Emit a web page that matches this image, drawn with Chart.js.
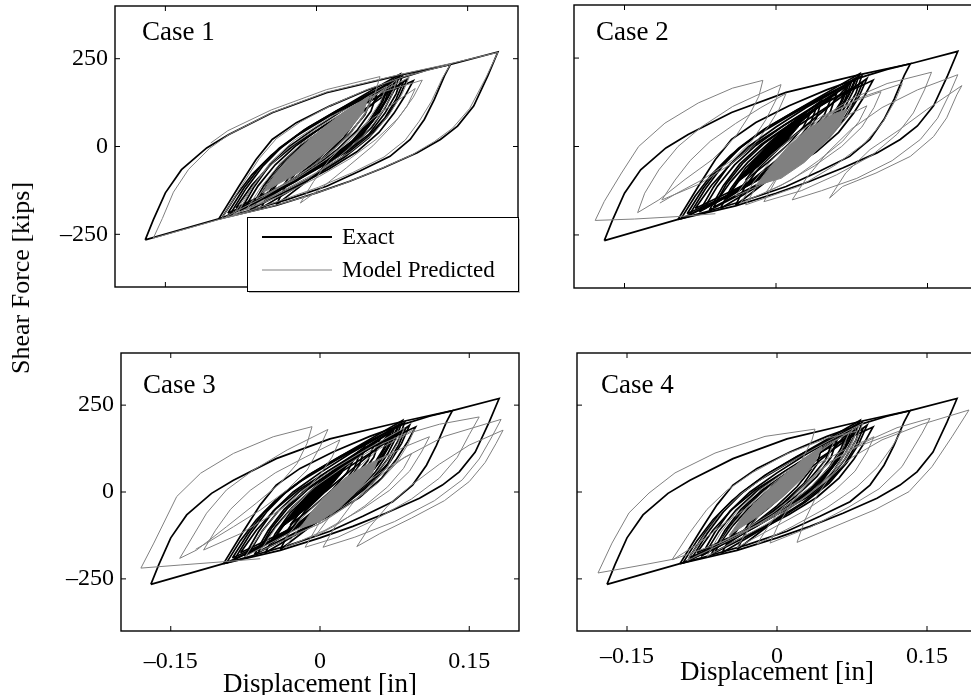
<!DOCTYPE html>
<html>
<head>
<meta charset="utf-8">
<script src="https://cdn.jsdelivr.net/npm/chart.js@4.4.0/dist/chart.umd.min.js"></script>
<style>
  html, body { margin: 0; padding: 0; background: #fff; }
  body { position: relative; width: 971px; height: 695px; overflow: hidden; }
  canvas { position: absolute; left: 0; top: 0; }
  #ylab {
    position: absolute; left: 21px; top: 278px;
    transform: translate(-50%, -50%) rotate(-90deg);
    font: 26px "Liberation Serif", "Times New Roman", serif;
    line-height: 1; white-space: nowrap; color: #000;
  }
</style>
</head>
<body>
<canvas id="c1" width="990" height="720"></canvas>
<canvas id="c2" width="990" height="720"></canvas>
<canvas id="c3" width="990" height="720"></canvas>
<canvas id="c4" width="990" height="720"></canvas>
<div id="ylab">Shear Force [kips]</div>
<script>
// axes
const xTicks = [-0.15, 0, 0.15];
const yTicks = [-250, 0, 250];
const xRange = [-0.2, 0.2];
const yRange = [-400, 400];
const caseNames = ['Case 1', 'Case 2', 'Case 3', 'Case 4'];
const seriesNames = ['Exact', 'Model Predicted'];

// exact response: [displacement in, shear kips] per cycle (same in every case)
const exactLoops = [
  [[-0.170,-266],[-0.162,-209],[-0.150,-132],[-0.134,-66],[-0.109,-4],[-0.087,34],[-0.044,96],[0.010,153],[0.083,203],[0.133,234],[0.180,269],[0.170,201],[0.156,115],[0.140,58],[0.123,20],[0.100,-18],[0.066,-61],[0.033,-99],[0.000,-132],[-0.040,-168],[-0.097,-206],[-0.170,-266]],
  [[-0.097,-206],[-0.077,-113],[-0.060,-37],[-0.044,20],[-0.020,68],[0.013,115],[0.050,160],[0.085,196],[0.110,218],[0.133,234],[0.127,201],[0.117,134],[0.107,77],[0.093,20],[0.073,-28],[0.043,-70],[0.010,-113],[-0.030,-152],[-0.070,-185],[-0.097,-206]],
  [[-0.086,-194],[-0.070,-120],[-0.053,-55],[-0.034,0],[-0.008,55],[0.025,110],[0.055,160],[0.083,206],[0.077,160],[0.068,110],[0.055,55],[0.037,5],[0.012,-45],[-0.020,-95],[-0.055,-150],[-0.086,-194]],
  [[-0.076,-185],[-0.062,-115],[-0.047,-55],[-0.027,0],[0.000,55],[0.030,110],[0.058,155],[0.080,196],[0.073,150],[0.062,95],[0.047,40],[0.027,-10],[0.000,-60],[-0.035,-115],[-0.076,-185]],
  [[-0.066,-180],[-0.052,-110],[-0.036,-50],[-0.015,5],[0.015,65],[0.050,125],[0.075,160],[0.096,187],[0.088,145],[0.077,95],[0.062,40],[0.040,-15],[0.012,-65],[-0.025,-120],[-0.066,-180]],
  [[-0.094,-204],[-0.080,-140],[-0.064,-80],[-0.045,-25],[-0.020,30],[0.015,90],[0.050,145],[0.085,200],[0.079,150],[0.068,95],[0.052,35],[0.030,-15],[0.000,-65],[-0.040,-130],[-0.094,-204]],
  [[-0.040,-166],[-0.030,-110],[-0.015,-55],[0.005,0],[0.030,60],[0.055,120],[0.075,185],[0.068,130],[0.055,70],[0.038,15],[0.015,-40],[-0.010,-100],[-0.040,-166]],
  [[-0.055,-175],[-0.045,-120],[-0.030,-60],[-0.010,-5],[0.020,55],[0.055,120],[0.090,192],[0.082,140],[0.070,85],[0.052,25],[0.028,-30],[-0.005,-90],[-0.055,-175]],
  [[-0.080,-175],[-0.064,-110],[-0.045,-50],[-0.022,5],[0.008,60],[0.040,115],[0.070,170],[0.064,125],[0.052,70],[0.035,15],[0.010,-40],[-0.025,-100],[-0.080,-175]],
  [[-0.088,-190],[-0.072,-118],[-0.056,-58],[-0.037,-5],[-0.012,48],[0.020,102],[0.052,150],[0.078,188],[0.071,142],[0.060,88],[0.045,33],[0.024,-18],[-0.004,-70],[-0.042,-130],[-0.088,-190]],
  [[-0.062,-172],[-0.049,-105],[-0.033,-48],[-0.012,8],[0.016,65],[0.048,122],[0.086,182],[0.079,135],[0.068,82],[0.050,25],[0.026,-30],[-0.008,-92],[-0.062,-172]],
  [[-0.072,-178],[-0.058,-112],[-0.041,-52],[-0.020,3],[0.008,60],[0.040,118],[0.072,176],[0.066,130],[0.055,75],[0.038,20],[0.014,-35],[-0.020,-98],[-0.072,-178]],
  [[-0.050,-150],[-0.035,-85],[-0.018,-30],[0.005,30],[0.030,90],[0.060,150],[0.054,100],[0.040,45],[0.020,-10],[-0.005,-65],[-0.050,-150]],
  [[-0.045,-130],[-0.030,-70],[-0.010,-15],[0.012,40],[0.035,95],[0.055,140],[0.048,90],[0.032,35],[0.012,-20],[-0.012,-75],[-0.045,-130]],
  [[-0.060,-160],[-0.045,-100],[-0.028,-45],[-0.005,15],[0.020,75],[0.045,130],[0.040,80],[0.027,25],[0.005,-35],[-0.022,-95],[-0.060,-160]],
  [[-0.035,-120],[-0.022,-65],[-0.005,-10],[0.015,45],[0.040,110],[0.034,65],[0.020,15],[0.000,-40],[-0.035,-120]],
  [[-0.030,-95],[-0.015,-40],[0.002,15],[0.022,70],[0.035,100],[0.027,55],[0.012,5],[-0.008,-45],[-0.030,-95]]
];
// envelope of the many small exact cycles near the origin
const exactCore = [[-0.040,-105],[-0.025,-50],[-0.008,5],[0.010,55],[0.030,100],[0.022,55],[0.008,8],[-0.012,-45],[-0.040,-105]];

// model predicted response, case 1
const pred1Loops = [
  [[-0.162,-261],[-0.153,-205],[-0.142,-130],[-0.127,-65],[-0.106,-5],[-0.087,34],[-0.044,97],[0.010,155],[0.083,205],[0.133,236],[0.180,268],[0.168,195],[0.152,108],[0.135,52],[0.117,14],[0.094,-25],[0.060,-68],[0.025,-108],[-0.010,-142],[-0.050,-175],[-0.097,-208],[-0.162,-261]],
  [[-0.094,-205],[-0.074,-110],[-0.057,-35],[-0.040,22],[-0.016,70],[0.015,118],[0.050,162],[0.088,200],[0.133,234],[0.125,195],[0.114,128],[0.102,72],[0.088,18],[0.067,-30],[0.036,-74],[0.002,-116],[-0.038,-156],[-0.072,-188],[-0.094,-205]],
  [[-0.105,10],[-0.088,45],[-0.045,104],[0.010,162],[0.063,199],[0.058,150],[0.048,92],[0.033,32],[0.010,-28],[-0.020,-88],[-0.055,-148],[-0.090,-200]],
  [[-0.078,-188],[-0.063,-112],[-0.046,-46],[-0.022,18],[0.018,90],[0.062,152],[0.105,189],[0.096,140],[0.081,80],[0.059,20],[0.033,-35],[0.003,-85],[-0.037,-142],[-0.078,-188]],
  [[-0.016,-161],[-0.003,-100],[0.012,-40],[0.032,20],[0.056,80],[0.080,130],[0.098,165],[0.090,115],[0.076,62],[0.056,2],[0.030,-60],[0.005,-118],[-0.016,-161]],
  [[-0.070,-182],[-0.055,-115],[-0.038,-55],[-0.016,5],[0.015,65],[0.048,125],[0.080,190],[0.074,140],[0.062,85],[0.046,28],[0.022,-30],[-0.010,-95],[-0.070,-182]],
  [[-0.083,-196],[-0.066,-125],[-0.049,-62],[-0.028,-5],[0.002,55],[0.036,112],[0.070,165],[0.092,197],[0.085,150],[0.073,95],[0.057,38],[0.034,-15],[0.006,-65],[-0.035,-128],[-0.083,-196]],
  [[-0.060,-150],[-0.045,-90],[-0.028,-35],[-0.005,25],[0.022,85],[0.050,140],[0.070,172],[0.063,125],[0.050,70],[0.032,15],[0.008,-40],[-0.022,-95],[-0.060,-150]],
  [[-0.052,-140],[-0.036,-80],[-0.018,-25],[0.004,30],[0.028,88],[0.055,145],[0.049,100],[0.036,48],[0.018,-5],[-0.006,-60],[-0.052,-140]]
];
const pred1Core = [[-0.054,-132],[-0.039,-72],[-0.020,-14],[0.003,45],[0.027,98],[0.052,142],[0.046,96],[0.031,42],[0.010,-15],[-0.015,-70],[-0.054,-132]];

// model predicted response, case 2
const pred2Loops = [
  [[-0.060,-190],[-0.097,-198],[-0.140,-205],[-0.179,-209],[-0.170,-155],[-0.153,-75],[-0.136,0],[-0.110,66],[-0.077,123],[-0.043,165],[-0.013,187],[-0.017,142],[-0.027,85],[-0.040,28],[-0.063,-37],[-0.090,-93],[-0.116,-151],[-0.137,-187],[-0.130,-132],[-0.116,-66],[-0.097,0],[-0.073,57],[-0.043,113],[-0.015,150],[0.005,175],[0.000,132],[-0.010,76],[-0.023,19],[-0.043,-38],[-0.073,-94],[-0.100,-135],[-0.115,-160]],
  [[-0.113,-151],[-0.100,-95],[-0.085,-40],[-0.065,15],[-0.040,65],[-0.015,110],[0.010,150],[0.003,105],[-0.008,55],[-0.022,5],[-0.045,-50],[-0.075,-105],[-0.113,-151]],
  [[0.053,-146],[0.069,-75],[0.093,-9],[0.122,47],[0.149,104],[0.184,172],[0.179,146],[0.169,81],[0.156,28],[0.133,-28],[0.099,-75],[0.066,-113],[0.053,-146]],
  [[0.016,-151],[0.030,-90],[0.050,-20],[0.075,50],[0.105,110],[0.140,160],[0.180,203],[0.172,150],[0.160,80],[0.143,20],[0.115,-40],[0.080,-90],[0.045,-125],[0.016,-151]],
  [[-0.012,-156],[0.000,-95],[0.015,-30],[0.030,30],[0.050,90],[0.075,135],[0.110,178],[0.154,210],[0.147,160],[0.136,95],[0.120,35],[0.095,-25],[0.060,-80],[0.025,-125],[-0.012,-156]],
  [[-0.030,-165],[-0.018,-105],[0.000,-45],[0.022,20],[0.050,85],[0.085,140],[0.125,178],[0.118,130],[0.106,70],[0.088,10],[0.060,-50],[0.025,-110],[-0.030,-165]],
  [[-0.035,-160],[-0.022,-100],[-0.005,-40],[0.018,20],[0.045,80],[0.075,125],[0.104,155],[0.097,110],[0.085,55],[0.065,0],[0.038,-55],[0.005,-110],[-0.035,-160]],
  [[-0.040,-140],[-0.025,-80],[-0.005,-25],[0.020,35],[0.045,85],[0.075,120],[0.068,75],[0.052,20],[0.030,-35],[0.000,-90],[-0.040,-140]],
  [[-0.010,-130],[0.005,-70],[0.025,-15],[0.048,40],[0.072,90],[0.090,115],[0.082,70],[0.066,15],[0.042,-40],[0.015,-95],[-0.010,-130]]
];
const pred2Core = [[-0.020,-110],[-0.005,-55],[0.012,0],[0.032,50],[0.055,90],[0.070,105],[0.063,60],[0.048,10],[0.028,-45],[0.005,-90],[-0.020,-110]];

// model predicted response, case 3
const pred3Loops = [
  [[-0.060,-192],[-0.094,-200],[-0.140,-210],[-0.180,-219],[-0.167,-147],[-0.144,-13],[-0.120,54],[-0.087,111],[-0.047,159],[-0.008,188],[-0.013,140],[-0.023,82],[-0.040,25],[-0.064,-32],[-0.094,-100],[-0.124,-167],[-0.141,-191],[-0.130,-138],[-0.114,-61],[-0.094,6],[-0.067,63],[-0.033,121],[0.008,180],[0.000,130],[-0.013,63],[-0.033,6],[-0.060,-52],[-0.087,-100],[-0.114,-147],[-0.125,-165]],
  [[-0.117,-167],[-0.105,-110],[-0.090,-50],[-0.070,5],[-0.045,55],[-0.015,100],[0.020,150],[0.012,100],[0.000,50],[-0.018,-5],[-0.045,-60],[-0.080,-120],[-0.117,-167]],
  [[0.037,-157],[0.050,-100],[0.068,-40],[0.092,20],[0.120,80],[0.150,135],[0.184,178],[0.177,140],[0.166,85],[0.150,30],[0.125,-25],[0.092,-75],[0.060,-120],[0.037,-157]],
  [[0.003,-159],[0.015,-100],[0.032,-35],[0.055,35],[0.085,100],[0.125,160],[0.182,209],[0.173,160],[0.160,95],[0.143,35],[0.115,-25],[0.075,-85],[0.035,-130],[0.003,-159]],
  [[-0.015,-159],[-0.003,-100],[0.010,-40],[0.025,20],[0.040,75],[0.060,125],[0.090,170],[0.120,195],[0.160,216],[0.150,165],[0.138,100],[0.120,40],[0.092,-20],[0.055,-80],[0.018,-130],[-0.015,-159]],
  [[-0.035,-160],[-0.020,-100],[0.000,-40],[0.025,25],[0.055,85],[0.085,130],[0.110,159],[0.102,115],[0.090,60],[0.070,5],[0.042,-50],[0.005,-110],[-0.035,-160]],
  [[-0.060,-170],[-0.045,-105],[-0.028,-45],[-0.005,15],[0.025,75],[0.060,135],[0.095,180],[0.088,135],[0.076,80],[0.058,25],[0.032,-30],[0.000,-90],[-0.060,-170]],
  [[-0.075,-185],[-0.060,-120],[-0.043,-60],[-0.020,0],[0.010,60],[0.045,120],[0.085,185],[0.078,140],[0.066,85],[0.048,30],[0.022,-25],[-0.012,-90],[-0.075,-185]],
  [[-0.035,-135],[-0.020,-80],[0.000,-25],[0.022,30],[0.048,80],[0.075,115],[0.068,72],[0.052,20],[0.030,-35],[0.002,-88],[-0.035,-135]],
  [[-0.005,-128],[0.010,-70],[0.030,-15],[0.052,38],[0.076,85],[0.092,110],[0.084,68],[0.068,15],[0.045,-40],[0.018,-92],[-0.005,-128]]
];
const pred3Core = [[-0.020,-105],[-0.008,-55],[0.008,-5],[0.025,40],[0.045,75],[0.058,90],[0.052,50],[0.038,5],[0.020,-45],[0.000,-85],[-0.020,-105]];

// model predicted response, case 4
const pred4Loops = [
  [[-0.103,-193],[-0.140,-213],[-0.179,-233],[-0.165,-147],[-0.148,-60],[-0.128,-3],[-0.102,55],[-0.062,112],[-0.012,160],[0.038,181],[0.035,150],[0.025,93],[0.008,35],[-0.018,-22],[-0.052,-89],[-0.078,-147],[-0.103,-193]],
  [[-0.105,-195],[-0.088,-120],[-0.070,-50],[-0.050,5],[-0.025,55],[0.010,110],[0.050,155],[0.080,175],[0.072,130],[0.060,75],[0.043,20],[0.018,-35],[-0.015,-90],[-0.060,-150],[-0.105,-195]],
  [[0.020,-145],[0.028,-80],[0.038,-20],[0.052,40],[0.075,100],[0.105,150],[0.145,195],[0.192,236],[0.175,159],[0.155,73],[0.132,1],[0.098,-51],[0.058,-99],[0.020,-145]],
  [[-0.007,-147],[0.002,-90],[0.015,-30],[0.032,30],[0.055,90],[0.085,140],[0.120,185],[0.153,212],[0.145,169],[0.125,73],[0.102,9],[0.072,-43],[0.035,-99],[-0.007,-147]],
  [[-0.020,-150],[-0.008,-95],[0.008,-35],[0.028,25],[0.052,85],[0.080,130],[0.125,178],[0.115,130],[0.100,70],[0.080,15],[0.050,-45],[0.015,-100],[-0.020,-150]],
  [[-0.040,-160],[-0.027,-100],[-0.010,-40],[0.012,20],[0.040,80],[0.070,125],[0.097,159],[0.090,115],[0.078,60],[0.058,5],[0.030,-50],[-0.005,-105],[-0.040,-160]],
  [[-0.090,-198],[-0.073,-125],[-0.056,-60],[-0.036,-5],[-0.008,52],[0.028,110],[0.060,160],[0.086,198],[0.079,150],[0.068,95],[0.052,38],[0.030,-12],[0.000,-62],[-0.040,-128],[-0.090,-198]],
  [[-0.070,-185],[-0.056,-115],[-0.040,-55],[-0.018,5],[0.012,65],[0.046,125],[0.082,190],[0.075,140],[0.063,85],[0.046,28],[0.022,-30],[-0.012,-95],[-0.070,-185]],
  [[-0.058,-148],[-0.043,-88],[-0.026,-33],[-0.003,27],[0.024,86],[0.052,140],[0.072,170],[0.065,124],[0.052,70],[0.034,15],[0.010,-40],[-0.020,-95],[-0.058,-148]],
  [[-0.050,-138],[-0.034,-78],[-0.016,-23],[0.006,32],[0.030,90],[0.057,145],[0.051,100],[0.038,48],[0.020,-5],[-0.004,-60],[-0.050,-138]]
];
const pred4Core = [[-0.048,-125],[-0.034,-68],[-0.015,-10],[0.006,46],[0.027,97],[0.045,132],[0.039,90],[0.025,38],[0.005,-16],[-0.019,-70],[-0.048,-125]];

const BLACK = '#000000';
const GRAY = '#808080';
const FONT = '"Liberation Serif", "Times New Roman", serif';
Chart.defaults.font.family = FONT;
Chart.defaults.color = '#000';

const CW = 990, CH = 720;

const panels = [
  { id: 'c1', name: caseNames[0], pred: pred1Loops, core: pred1Core, box: [115, 6, 518, 287], yLabels: true, xLabels: false, label: [142, 40], legend: true },
  { id: 'c2', name: caseNames[1], pred: pred2Loops, core: pred2Core, box: [574, 5, 978, 288], yLabels: false, xLabels: false, label: [596, 40] },
  { id: 'c3', name: caseNames[2], pred: pred3Loops, core: pred3Core, box: [121, 353, 519, 631], yLabels: true, xLabels: true, tickPad: 16, titlePad: 22, label: [143, 393] },
  { id: 'c4', name: caseNames[3], pred: pred4Loops, core: pred4Core, box: [577, 353, 977, 631], yLabels: false, xLabels: true, tickPad: 11, titlePad: 34, label: [601, 393] }
];

function toXY(pts) {
  return pts.map(p => ({ x: p[0], y: p[1] }));
}

function lineSet(pts, color, width, order) {
  return { data: toXY(pts), borderColor: color, borderWidth: width, pointRadius: 0,
           fill: false, tension: 0, order: order };
}

function coreSet(pts, color, order) {
  return { data: toXY(pts), borderColor: color, backgroundColor: color, borderWidth: 1,
           pointRadius: 0, fill: 'shape', tension: 0, order: order };
}

function fmt(v) {
  return v < 0 ? '\u2013' + String(-v) : String(v);
}

// box, inward ticks on all sides and the case name
const framePlugin = {
  id: 'frame',
  afterDatasetsDraw(chart, args, opts) {
    const { ctx, chartArea: a, scales: { x, y } } = chart;
    ctx.save();
    ctx.strokeStyle = '#000';
    ctx.lineWidth = 1;
    ctx.beginPath();
    xTicks.forEach(v => {
      const px = x.getPixelForValue(v);
      ctx.moveTo(px, a.top); ctx.lineTo(px, a.top + 5);
      ctx.moveTo(px, a.bottom); ctx.lineTo(px, a.bottom - 5);
    });
    yTicks.forEach(v => {
      const py = y.getPixelForValue(v);
      ctx.moveTo(a.left, py); ctx.lineTo(a.left + 5, py);
      ctx.moveTo(a.right, py); ctx.lineTo(a.right - 5, py);
    });
    ctx.stroke();
    ctx.lineWidth = 1.4;
    ctx.strokeRect(a.left, a.top, a.right - a.left, a.bottom - a.top);
    ctx.fillStyle = '#000';
    ctx.font = '27px ' + FONT;
    ctx.textBaseline = 'alphabetic';
    ctx.fillText(opts.name, opts.label[0], opts.label[1]);
    ctx.restore();
  }
};

// legend box in the first panel
const legendPlugin = {
  id: 'boxLegend',
  afterDraw(chart, args, opts) {
    if (!opts.show) return;
    const ctx = chart.ctx;
    const bx = 247, by = 217, bw = 271, bh = 74;
    ctx.save();
    ctx.fillStyle = '#bdbdbd';
    ctx.fillRect(bx + 2, by + 2, bw, bh);
    ctx.fillStyle = '#fff';
    ctx.fillRect(bx, by, bw, bh);
    ctx.strokeStyle = '#000';
    ctx.lineWidth = 1;
    ctx.strokeRect(bx + 0.5, by + 0.5, bw, bh);
    const rows = [
      { text: seriesNames[0], color: BLACK, width: 2, y: 237 },
      { text: seriesNames[1], color: GRAY, width: 1, y: 270 }
    ];
    ctx.font = '23px ' + FONT;
    ctx.textBaseline = 'middle';
    rows.forEach(r => {
      ctx.strokeStyle = r.color;
      ctx.lineWidth = r.width;
      ctx.beginPath();
      ctx.moveTo(262, r.y); ctx.lineTo(332, r.y);
      ctx.stroke();
      ctx.fillStyle = '#000';
      ctx.fillText(r.text, 342, r.y + 1);
    });
    ctx.restore();
  }
};

panels.forEach(p => {
  const [L, T, R, B] = p.box;
  const datasets = [];
  p.pred.forEach(pts => datasets.push(lineSet(pts, GRAY, 1, 0)));
  datasets.push(coreSet(p.core, GRAY, 0));
  exactLoops.forEach(pts => datasets.push(lineSet(pts, BLACK, 1.7, 1)));
  datasets.push(coreSet(exactCore, BLACK, 1));

  new Chart(document.getElementById(p.id), {
    type: 'line',
    data: { datasets: datasets },
    options: {
      responsive: false,
      animation: false,
      events: [],
      layout: { padding: { left: L - 60, top: T, right: CW - R, bottom: 0 } },
      plugins: {
        legend: { display: false },
        tooltip: { enabled: false },
        frame: { name: p.name, label: p.label },
        boxLegend: { show: !!p.legend }
      },
      scales: {
        x: {
          type: 'linear', min: xRange[0], max: xRange[1],
          grid: { display: false, drawTicks: false },
          border: { display: false },
          afterBuildTicks: s => { s.ticks = xTicks.map(v => ({ value: v })); },
          ticks: { display: p.xLabels, padding: p.tickPad || 0, autoSkip: false, maxRotation: 0,
                   font: { size: 24, lineHeight: 1.2 }, color: '#000', callback: fmt },
          title: { display: p.xLabels, text: 'Displacement [in]', color: '#000',
                   font: { size: 27, lineHeight: 1 }, padding: { top: 0, bottom: p.titlePad || 0 } },
          afterFit: s => { s.height = CH - B; s.paddingLeft = 0; s.paddingRight = 0; }
        },
        y: {
          type: 'linear', min: yRange[0], max: yRange[1],
          grid: { display: false, drawTicks: false },
          border: { display: false },
          afterBuildTicks: s => { s.ticks = yTicks.map(v => ({ value: v })); },
          ticks: { display: p.yLabels, padding: 7, autoSkip: false,
                   font: { size: 24, lineHeight: 1.2 }, color: '#000', callback: fmt },
          afterFit: s => { s.width = 60; s.paddingTop = 0; s.paddingBottom = 0; }
        }
      }
    },
    plugins: [framePlugin, legendPlugin]
  });
});
</script>
</body>
</html>
